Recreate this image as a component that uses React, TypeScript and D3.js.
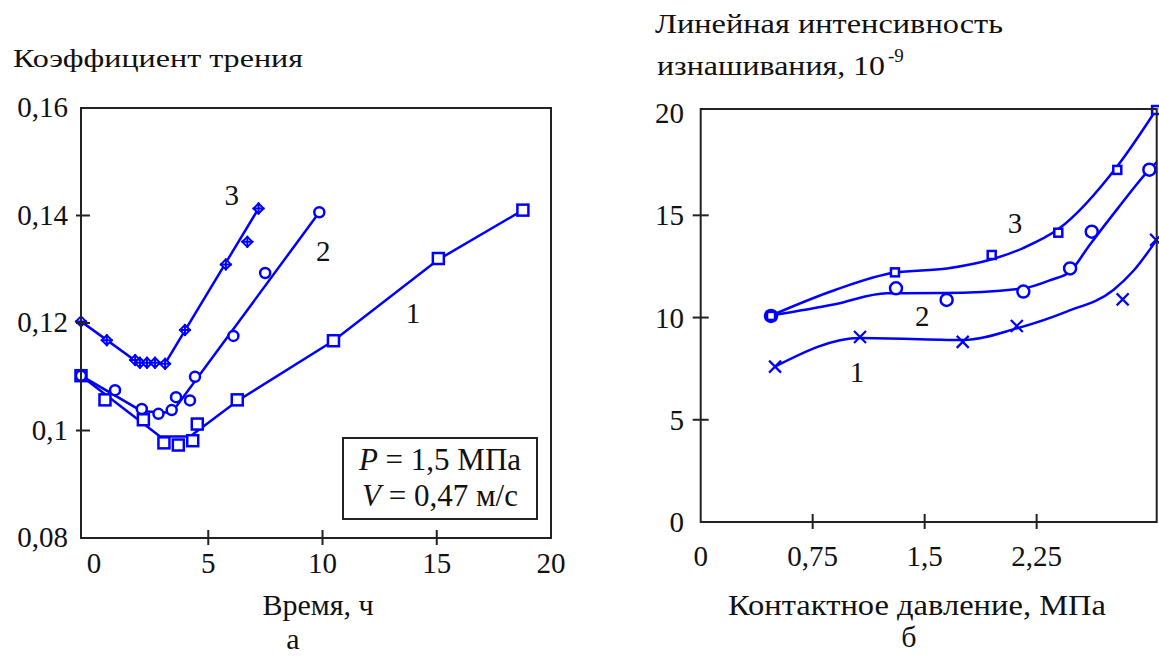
import React from 'react';
import * as d3 from 'd3';

// ---------- Chart (а): friction coefficient vs time ----------
const timeTicks = [0, 5, 10, 15, 20];
const timeTickLabels = ['0', '5', '10', '15', '20'];
const frictionTicks = [0.08, 0.1, 0.12, 0.14, 0.16];
const frictionTickLabels = ['0,08', '0,1', '0,12', '0,14', '0,16'];

// series 1 (squares)
const s1Time = [-0.57, 0.48, 2.16, 3.06, 3.69, 4.32, 4.52, 6.27, 10.48, 15.07, 18.77];
const s1Friction = [0.1102, 0.1057, 0.102, 0.0977, 0.0973, 0.0981, 0.1012, 0.1057, 0.1167, 0.132, 0.141];
const s1LineTime = [-0.57, 2.89, 4.2, 6.27, 10.48, 15.07, 18.77];
const s1LineFriction = [0.1102, 0.0989, 0.0989, 0.1055, 0.1167, 0.1318, 0.141];
// series 2 (circles)
const s2Time = [-0.57, 0.92, 2.09, 2.82, 3.4, 3.59, 4.2, 4.42, 6.1, 7.49, 9.86];
const s2Friction = [0.1102, 0.1075, 0.104, 0.1031, 0.1038, 0.1062, 0.1056, 0.11, 0.1176, 0.1293, 0.1406];
const s2LineTime = [-0.57, 2.09, 3.4, 9.86];
const s2LineFriction = [0.1102, 0.1036, 0.1033, 0.1406];
// series 3 (stars)
const s3Time = [-0.57, 0.56, 1.8, 2.01, 2.32, 2.67, 3.11, 3.98, 5.77, 6.71, 7.2];
const s3Friction = [0.1203, 0.1168, 0.1131, 0.1126, 0.1126, 0.1126, 0.1124, 0.1187, 0.1309, 0.1351, 0.1413];
const s3LineTime = [-0.57, 1.9, 3.1, 7.2];
const s3LineFriction = [0.1203, 0.1127, 0.1124, 0.1413];

const leftCurveLabels = ['1', '2', '3'];
const leftCurveLabelTime = [13.96, 10.03, 6.03];
const leftCurveLabelFriction = [0.1219, 0.1334, 0.1438];

// ---------- Chart (б): wear intensity vs contact pressure ----------
const pressureTicks = [0, 0.75, 1.5, 2.25];
const pressureTickLabels = ['0', '0,75', '1,5', '2,25'];
const wearTicks = [0, 5, 10, 15, 20];
const wearTickLabels = ['0', '5', '10', '15', '20'];

// curve 1 (crosses)
const w1Pressure = [0.498, 1.067, 1.755, 2.117, 2.826, 3.05];
const w1Wear = [7.6, 9.05, 8.81, 9.59, 10.89, 13.8];
const w1LinePressure = [0.498, 1.067, 1.755, 2.117, 2.451, 2.764, 2.9, 3.054];
const w1LineWear = [7.6, 9.0, 8.9, 9.47, 10.29, 11.35, 12.3, 13.8];
// curve 2 (circles)
const w2Pressure = [0.471, 1.308, 1.647, 2.161, 2.474, 2.619, 3.005];
const w2Wear = [10.08, 11.43, 10.86, 11.27, 12.4, 14.2, 17.23];
const w2LinePressure = [0.471, 0.9, 1.246, 1.625, 2.161, 2.35, 2.474, 2.6, 2.8, 3.0, 3.054];
const w2LineWear = [10.1, 10.65, 11.19, 11.2, 11.43, 11.85, 12.25, 13.5, 15.4, 17.2, 17.6];
// curve 3 (small squares)
const w3Pressure = [0.471, 1.301, 1.949, 2.395, 2.79, 3.05];
const w3Wear = [10.08, 12.21, 13.06, 14.15, 17.22, 20.15];
const w3LinePressure = [0.471, 0.9, 1.3, 1.65, 1.95, 2.16, 2.4, 2.79, 3.054];
const w3LineWear = [10.1, 11.35, 12.2, 12.4, 12.85, 13.4, 14.35, 17.4, 20.2];

const rightCurveLabels = ['1', '2', '3'];
const rightCurveLabelPressure = [1.047, 1.484, 2.105];
const rightCurveLabelWear = [7.36, 10.07, 14.6];

const BLUE = '#0000ff';
const AXIS = '#222';
const SERIF = "'Liberation Serif', 'Times New Roman', Tinos, 'DejaVu Serif', serif";

function zip(xs: number[], ys: number[]): [number, number][] {
  return xs.map((x, i) => [x, ys[i]]);
}

function Square({ x, y, s }: { x: number; y: number; s: number }) {
  return <rect x={x - s / 2} y={y - s / 2} width={s} height={s} fill="white" stroke={BLUE} strokeWidth={2.5} />;
}
function Circ({ x, y, r }: { x: number; y: number; r: number }) {
  return <circle cx={x} cy={y} r={r} fill="white" stroke={BLUE} strokeWidth={2.5} />;
}
function Star({ x, y }: { x: number; y: number }) {
  const h = 5;
  return (
    <g stroke={BLUE} strokeWidth={2} fill="white">
      <path d={`M${x},${y - h}L${x + h},${y}L${x},${y + h}L${x - h},${y}Z`} />
      <path d={`M${x - h - 1},${y}H${x + h + 1}M${x},${y - h - 1}V${y + h + 1}`} fill="none" />
    </g>
  );
}
function Cross({ x, y }: { x: number; y: number }) {
  const h = 6;
  return <path d={`M${x - h},${y - h}L${x + h},${y + h}M${x - h},${y + h}L${x + h},${y - h}`} stroke={BLUE} strokeWidth={2.2} />;
}

export default function App() {
  // ---- left chart scales ----
  const lx = d3.scaleLinear().domain([-0.57, 20]).range([81, 551]);
  const ly = d3.scaleLinear().domain([0.08, 0.16]).range([538, 108]);
  const lLine = d3
    .line<[number, number]>()
    .x((d) => lx(d[0]))
    .y((d) => ly(d[1]));

  // ---- right chart scales ----
  const rx = d3.scaleLinear().domain([0, 3.054]).range([700.7, 1156.7]);
  const ry = d3.scaleLinear().domain([0, 20.2]).range([522, 109]);
  const rLine = d3
    .line<[number, number]>()
    .x((d) => rx(d[0]))
    .y((d) => ry(d[1]))
    .curve(d3.curveMonotoneX);

  const [lx0, lx1] = lx.range();
  const [ly0, ly1] = ly.range();
  const [rx0, rx1] = rx.range();
  const [ry0, ry1] = ry.range();

  const txt = { fontFamily: SERIF };

  return (
    <svg width={1159} height={656} style={{ position: 'absolute', left: 0, top: 0, background: 'white', fontFamily: SERIF }}>
      <rect x={0} y={0} width={1159} height={656} fill="white" />

      {/* ================= LEFT CHART ================= */}
      <text x={13} y={67} style={txt} fontSize={26} textLength={290} lengthAdjust="spacingAndGlyphs" fill="#111">
        Коэффициент трения
      </text>

      <path d={lLine(zip(s1LineTime, s1LineFriction)) || ''} fill="none" stroke={BLUE} strokeWidth={2.5} />
      <path d={lLine(zip(s2LineTime, s2LineFriction)) || ''} fill="none" stroke={BLUE} strokeWidth={2.5} />
      <path d={lLine(zip(s3LineTime, s3LineFriction)) || ''} fill="none" stroke={BLUE} strokeWidth={2.5} />

      {s1Time.map((t, i) => (
        <Square key={'s1' + i} x={lx(t)} y={ly(s1Friction[i])} s={11} />
      ))}
      {s2Time.map((t, i) => (
        <Circ key={'s2' + i} x={lx(t)} y={ly(s2Friction[i])} r={5} />
      ))}
      {s3Time.map((t, i) => (
        <Star key={'s3' + i} x={lx(t)} y={ly(s3Friction[i])} />
      ))}

      <rect x={lx0} y={ly1} width={lx1 - lx0} height={ly0 - ly1} fill="none" stroke={AXIS} strokeWidth={2} />
      {timeTicks.slice(1, -1).map((t) => (
        <line key={'lxt' + t} x1={lx(t)} x2={lx(t)} y1={ly0 - 8} y2={ly0 + 7} stroke={AXIS} strokeWidth={2} />
      ))}
      {frictionTicks.slice(1, -1).map((v) => (
        <line key={'lyt' + v} x1={lx0 - 5} x2={lx0 + 9} y1={ly(v)} y2={ly(v)} stroke={AXIS} strokeWidth={2} />
      ))}
      {timeTicks.map((t, i) => (
        <text key={'lxl' + t} x={lx(t)} y={573} style={txt} fontSize={29} textAnchor="middle" fill="#111">
          {timeTickLabels[i]}
        </text>
      ))}
      {frictionTicks.map((v, i) => (
        <text key={'lyl' + v} x={68} y={ly(v) + 9} style={txt} fontSize={29} textAnchor="end" fill="#111">
          {frictionTickLabels[i]}
        </text>
      ))}
      {leftCurveLabels.map((s, i) => (
        <text
          key={'lcl' + s}
          x={lx(leftCurveLabelTime[i])}
          y={ly(leftCurveLabelFriction[i]) + 10}
          style={txt}
          fontSize={29}
          textAnchor="middle"
          fill="#111"
        >
          {s}
        </text>
      ))}

      <rect x={343} y={438} width={194} height={81} fill="white" stroke={AXIS} strokeWidth={2} />
      <text x={440} y={470} style={txt} fontSize={31} textAnchor="middle" fill="#111">
        <tspan fontStyle="italic">P</tspan> = 1,5 МПа
      </text>
      <text x={440} y={506} style={txt} fontSize={31} textAnchor="middle" fill="#111">
        <tspan fontStyle="italic">V</tspan> = 0,47 м/с
      </text>

      <text x={318} y={615} style={txt} fontSize={30} textAnchor="middle" fill="#111">
        Время, ч
      </text>
      <text x={293} y={649} style={txt} fontSize={30} textAnchor="middle" fill="#111">
        а
      </text>

      {/* ================= RIGHT CHART ================= */}
      <text x={655} y={33} style={txt} fontSize={27} textLength={348} lengthAdjust="spacingAndGlyphs" fill="#111">
        Линейная интенсивность
      </text>
      <text x={657} y={75} style={txt} fontSize={27} fill="#111">
        <tspan textLength={228} lengthAdjust="spacingAndGlyphs">изнашивания, 10</tspan>
        <tspan x={888} y={62} fontSize={19}>
          -9
        </tspan>
      </text>

      <path d={rLine(zip(w1LinePressure, w1LineWear)) || ''} fill="none" stroke={BLUE} strokeWidth={2.5} />
      <path d={rLine(zip(w2LinePressure, w2LineWear)) || ''} fill="none" stroke={BLUE} strokeWidth={2.5} />
      <path d={rLine(zip(w3LinePressure, w3LineWear)) || ''} fill="none" stroke={BLUE} strokeWidth={2.5} />

      {w1Pressure.map((p, i) => (
        <Cross key={'w1' + i} x={rx(p)} y={ry(w1Wear[i])} />
      ))}
      {w2Pressure.map((p, i) => (
        <Circ key={'w2' + i} x={rx(p)} y={ry(w2Wear[i])} r={6} />
      ))}
      {w3Pressure.map((p, i) => (
        <Square key={'w3' + i} x={rx(p)} y={ry(w3Wear[i])} s={8} />
      ))}

      <rect x={rx0} y={ry1} width={rx1 - rx0} height={ry0 - ry1} fill="none" stroke={AXIS} strokeWidth={2} />
      {pressureTicks.slice(1).map((p) => (
        <line key={'rxt' + p} x1={rx(p)} x2={rx(p)} y1={ry0 - 8} y2={ry0 + 7} stroke={AXIS} strokeWidth={2} />
      ))}
      {wearTicks.slice(1, -1).map((v) => (
        <line key={'ryt' + v} x1={rx0 - 8} x2={rx0 + 8} y1={ry(v)} y2={ry(v)} stroke={AXIS} strokeWidth={2} />
      ))}
      {pressureTicks.map((p, i) => (
        <text key={'rxl' + p} x={rx(p)} y={566} style={txt} fontSize={29} textAnchor="middle" fill="#111">
          {pressureTickLabels[i]}
        </text>
      ))}
      {wearTicks.map((v, i) => (
        <text key={'ryl' + v} x={684} y={ry(v) + 10} style={txt} fontSize={29} textAnchor="end" fill="#111">
          {wearTickLabels[i]}
        </text>
      ))}
      {rightCurveLabels.map((s, i) => (
        <text
          key={'rcl' + s}
          x={rx(rightCurveLabelPressure[i])}
          y={ry(rightCurveLabelWear[i]) + 10}
          style={txt}
          fontSize={29}
          textAnchor="middle"
          fill="#111"
        >
          {s}
        </text>
      ))}

      <text x={917} y={615} style={txt} fontSize={30} textAnchor="middle" textLength={378} lengthAdjust="spacingAndGlyphs" fill="#111">
        Контактное давление, МПа
      </text>
      <text x={909} y={647} style={txt} fontSize={30} textAnchor="middle" fill="#111">
        б
      </text>
    </svg>
  );
}
